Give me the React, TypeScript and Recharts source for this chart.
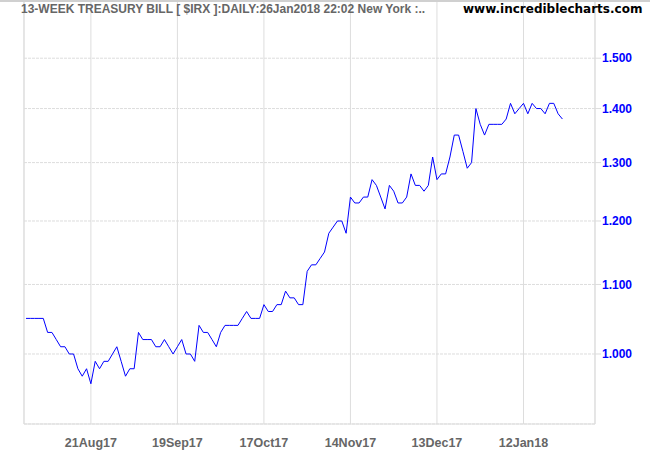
import { LineChart, Line, XAxis, YAxis, CartesianGrid, ReferenceLine } from 'recharts';

// 13-week T-bill ($IRX / 10), one value per trading day, 31 Jul 2017 .. 26 Jan 2018
const irx = [
  1.05, 1.05, 1.05, 1.05, 1.05, 1.03, 1.03, 1.02, 1.01, 1.01,
  1.0, 1.0, 0.98, 0.97, 0.98, 0.96, 0.99, 0.98, 0.99, 0.99,
  1.0, 1.01, 0.99, 0.97, 0.98, 0.98, 1.03, 1.02, 1.02, 1.02,
  1.01, 1.01, 1.02, 1.01, 1.0, 1.01, 1.02, 1.0, 1.0, 0.99,
  1.04, 1.03, 1.03, 1.02, 1.01, 1.03, 1.04, 1.04, 1.04, 1.04,
  1.05, 1.06, 1.05, 1.05, 1.05, 1.07, 1.06, 1.06, 1.07, 1.07,
  1.09, 1.08, 1.08, 1.07, 1.07, 1.12, 1.13, 1.13, 1.14, 1.15,
  1.18, 1.19, 1.2, 1.2, 1.18, 1.24, 1.23, 1.23, 1.24, 1.24,
  1.27, 1.26, 1.24, 1.22, 1.26, 1.25, 1.23, 1.23, 1.24, 1.28,
  1.26, 1.26, 1.25, 1.26, 1.31, 1.27, 1.28, 1.28, 1.31, 1.35,
  1.35, 1.32, 1.29, 1.3, 1.4, 1.37, 1.35, 1.37, 1.37, 1.37,
  1.37, 1.38, 1.41, 1.39, 1.4, 1.41, 1.39, 1.41, 1.4, 1.4,
  1.39, 1.41, 1.41, 1.39, 1.38,
];

// trading-day index of each date label
const tickDays = [15, 35, 55, 75, 95, 115];
const tickLabels = ['21Aug17', '19Sep17', '17Oct17', '14Nov17', '13Dec17', '12Jan18'];
const priceTicks = [1.0, 1.1, 1.2, 1.3, 1.4, 1.5];

const data = irx.map((v, i) => ({ day: i, irx: v }));

const font = '"Liberation Sans", Arial, sans-serif';
const grid = '#dddddd';

export default function App() {
  return (
    <div style={{ position: 'absolute', left: 0, top: 0, width: 650, height: 450, background: '#fff' }}>
      <LineChart width={650} height={450} data={data} margin={{ top: 0, right: 0, bottom: 0, left: 24 }}>
        <CartesianGrid horizontal={false} stroke={grid} />
        <CartesianGrid vertical={false} stroke={grid} strokeDasharray="3 1" />
        <XAxis
          dataKey="day"
          type="number"
          domain={[-0.46, 131.53]}
          allowDataOverflow
          ticks={tickDays}
          interval={0}
          tickFormatter={(d: number) => tickLabels[tickDays.indexOf(d)] ?? ''}
          height={26}
          tickLine={false}
          tickMargin={8}
          axisLine={{ stroke: grid }}
          tick={{ fill: '#666', fontSize: 12.5, fontWeight: 'bold', fontFamily: font }}
        />
        <YAxis
          orientation="right"
          type="number"
          scale="log"
          domain={[0.9085, 1.6246]}
          allowDataOverflow
          ticks={priceTicks}
          interval={0}
          tickFormatter={(v: number) => v.toFixed(3)}
          width={55}
          tickSize={6}
          tickMargin={1}
          tickLine={{ stroke: grid }}
          axisLine={{ stroke: grid }}
          tick={{ fill: '#0000ff', fontSize: 12, fontWeight: 'bold', fontFamily: font }}
        />
        <ReferenceLine x={-0.46} stroke={grid} />
        <Line
          dataKey="irx"
          type="linear"
          stroke="#0000ff"
          strokeWidth={1}
          dot={false}
          isAnimationActive={false}
        />
      </LineChart>
      <div style={{ position: 'absolute', left: 0, top: 0, width: 650, height: 2, background: '#d0d0d0' }} />
      <div
        style={{
          position: 'absolute', left: 21, top: 2, lineHeight: '14px', fontSize: 12,
          fontWeight: 'bold', fontFamily: font, color: '#666', whiteSpace: 'nowrap',
        }}
      >
        13-WEEK TREASURY BILL [ $IRX ]:DAILY:26Jan2018 22:02 New York :..
      </div>
      <div
        style={{
          position: 'absolute', left: 463, top: 2, lineHeight: '14px', fontSize: 12,
          fontWeight: 'bold', fontFamily: '"DejaVu Sans", Verdana, sans-serif', color: '#000', whiteSpace: 'nowrap',
        }}
      >
        www.incrediblecharts.com
      </div>
    </div>
  );
}
